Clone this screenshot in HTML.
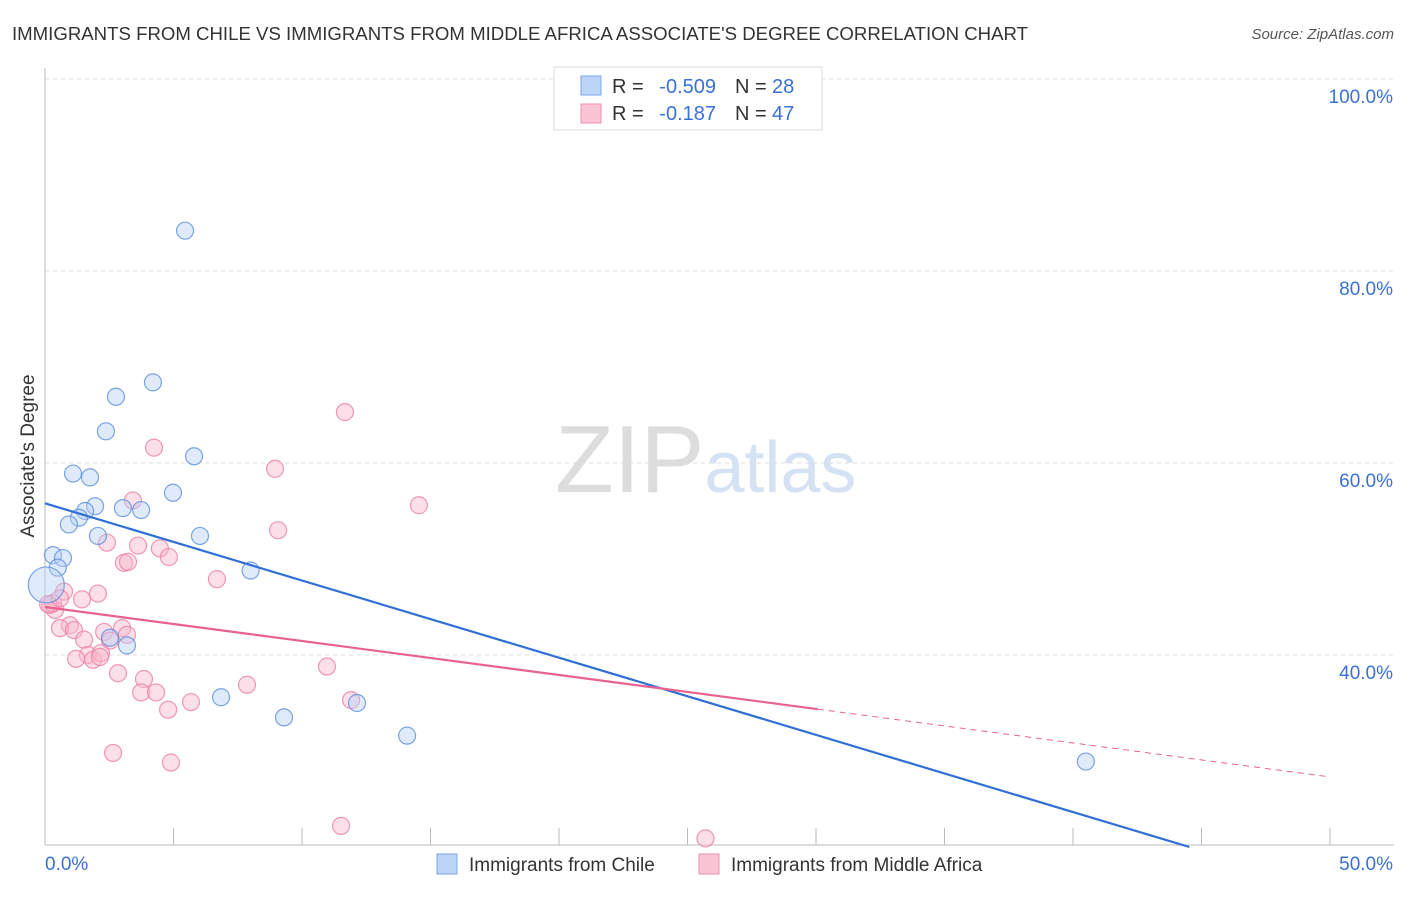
<!DOCTYPE html>
<html><head><meta charset="utf-8"><style>
body{margin:0;background:#fff;font-family:"Liberation Sans",sans-serif}
svg text{font-family:"Liberation Sans",sans-serif}
</style></head><body>
<svg id="chart" width="1406" height="892" xmlns="http://www.w3.org/2000/svg">
<text x="12" y="40" font-size="18" fill="#333" textLength="1016" lengthAdjust="spacingAndGlyphs">IMMIGRANTS FROM CHILE VS IMMIGRANTS FROM MIDDLE AFRICA ASSOCIATE'S DEGREE CORRELATION CHART</text>
<text x="1394" y="39" font-size="15" fill="#555" text-anchor="end" font-style="italic">Source: ZipAtlas.com</text>
<text x="555" y="492" font-size="96" font-family="Liberation Serif" fill="#ddd">ZIP<tspan fill="#d4e2f4" font-family="Liberation Sans" font-size="72">atlas</tspan></text>
<g id="grid"></g>
<g id="axes"></g>
<g id="marks"></g>
<text transform="translate(34,456) rotate(-90)" font-size="19" fill="#333" text-anchor="middle">Associate's Degree</text>
<g>
<rect x="554" y="67" width="268" height="63" fill="#fff" stroke="#ddd"/>
<rect x="581" y="76" width="20" height="19" fill="#bcd4f6" stroke="#7aa6e8"/>
<rect x="581" y="104" width="20" height="19" fill="#fac4d4" stroke="#ee90ad"/>
<text x="612" y="93" font-size="20" fill="#333">R =</text>
<text x="716" y="93" font-size="20" fill="#3a70d8" text-anchor="end">-0.509</text>
<text x="735" y="93" font-size="20" fill="#333">N =</text>
<text x="772" y="93" font-size="20" fill="#3a70d8">28</text>
<text x="612" y="120" font-size="20" fill="#333">R =</text>
<text x="716" y="120" font-size="20" fill="#3a70d8" text-anchor="end">-0.187</text>
<text x="735" y="120" font-size="20" fill="#333">N =</text>
<text x="772" y="120" font-size="20" fill="#3a70d8">47</text>
</g>
<g>
<rect x="437" y="854" width="20" height="20" fill="#bcd4f6" stroke="#7aa6e8"/>
<text x="469" y="871" font-size="19" fill="#333">Immigrants from Chile</text>
<rect x="699" y="854" width="20" height="20" fill="#fac4d4" stroke="#ee90ad"/>
<text x="731" y="871" font-size="19" fill="#333">Immigrants from Middle Africa</text>
</g>
</svg>
<script>
const yTicks=[40,60,80,100];
const yTickLabels=["40.0%","60.0%","80.0%","100.0%"];
const xTicks=[0,5,10,15,20,25,30,35,40,45,50];
const chileX=[5.45,4.2,2.76,2.37,5.8,1.09,1.75,4.98,1.95,3.03,3.74,1.56,1.32,0.93,2.06,6.03,0.31,0.7,0.5,0.05,8.0,2.53,3.19,6.85,9.3,12.14,14.09,40.5];
const chileY=[84.2,68.4,66.9,63.3,60.7,58.9,58.5,56.9,55.5,55.3,55.1,55.0,54.3,53.6,52.4,52.4,50.4,50.1,49.1,47.3,48.8,41.8,41.0,35.6,33.5,35.0,31.6,28.9];
const africaX=[11.67,4.24,8.95,14.55,3.42,9.07,2.41,3.62,4.47,4.82,3.07,3.23,6.69,0.2,0.74,2.06,1.44,0.39,0.31,0.97,0.58,1.13,2.3,3.0,3.19,1.52,2.53,1.67,1.87,2.18,1.21,2.84,3.85,10.97,7.86,3.74,4.32,5.68,4.79,11.91,2.65,4.9,11.52,25.7,2.14,0.12,0.58];
const africaY=[65.3,61.6,59.4,55.6,56.1,53.0,51.7,51.4,51.1,50.2,49.6,49.7,47.9,45.2,46.6,46.4,45.8,44.7,45.4,43.1,42.8,42.6,42.4,42.8,42.1,41.6,41.5,40.0,39.5,40.2,39.6,38.1,37.5,38.8,36.9,36.1,36.1,35.1,34.3,35.3,29.8,28.8,22.2,20.9,39.8,45.3,45.9];
const chileTrend=[55.8,-0.804];
const africaTrend=[45.0,-0.354];
const ns="http://www.w3.org/2000/svg";
const X=v=>45+v*25.7, Y=v=>1039-v*9.6;
function mk(tag,attrs,parent){const e=document.createElementNS(ns,tag);for(const k in attrs)e.setAttribute(k,attrs[k]);document.getElementById(parent).appendChild(e);return e;}
yTicks.forEach((t,i)=>{
 const g=mk('line',{x1:45,x2:1394,y1:Y(t),y2:Y(t),stroke:'#ddd','stroke-dasharray':'4,4'},'grid');
 
 
 const l=mk('text',{x:1393,y:Y(t)+24,'font-size':19,fill:'#3a70d8','text-anchor':'end'},'grid');
 l.textContent=yTickLabels[i];
 
 
});
const ax=mk('line',{x1:45,x2:45,y1:68,y2:845,stroke:'#bbb'},'axes');


const bx=mk('line',{x1:45,x2:1394,y1:845,y2:845,stroke:'#bbb'},'axes');


xTicks.forEach(t=>{
 const tk=mk('line',{x1:X(t),x2:X(t),y1:828,y2:845,stroke:'#bbb'},'axes');
 
 
});
[[0,'0.0%','start',45],[50,'50.0%','end',1393]].forEach(d=>{
 const l=mk('text',{x:d[3],y:870,'font-size':19,fill:'#3a70d8','text-anchor':d[2]},'axes');
 l.textContent=d[1];
 
 
});
function pts(xs,ys,fill,stroke,name,allowBig){xs.forEach((x,i)=>{
 const big=allowBig&&x<0.1;
 const c=mk('circle',{cx:X(x),cy:Y(ys[i]),r:big?18:8.5,fill:fill,'fill-opacity':0.45,stroke:stroke,'stroke-opacity':0.8,'stroke-width':1.2},'marks');
 
 
});}
pts(africaX,africaY,'#f8b8cc','#ec7fa2','africa-point',false);
pts(chileX,chileY,'#b8d0f4','#5b8fe0','chile-point',true);
function Ytr(tr,x){return Y(tr[0]+tr[1]*x);}
const xEnd=(20-chileTrend[0])/chileTrend[1];
const bl=mk('line',{x1:X(0),y1:Ytr(chileTrend,0),x2:X(xEnd),y2:Ytr(chileTrend,xEnd),stroke:'#2f6fd6','stroke-width':2.2},'marks');


const pl=mk('line',{x1:X(0),y1:Ytr(africaTrend,0),x2:X(30.07),y2:Ytr(africaTrend,30.07),stroke:'#e8628f','stroke-width':2.2},'marks');


const pd=mk('line',{x1:X(30.07),y1:Ytr(africaTrend,30.07),x2:X(50),y2:Ytr(africaTrend,50),stroke:'#e8628f','stroke-width':1,'stroke-dasharray':'6,5'},'marks');


</script>
</body></html>
